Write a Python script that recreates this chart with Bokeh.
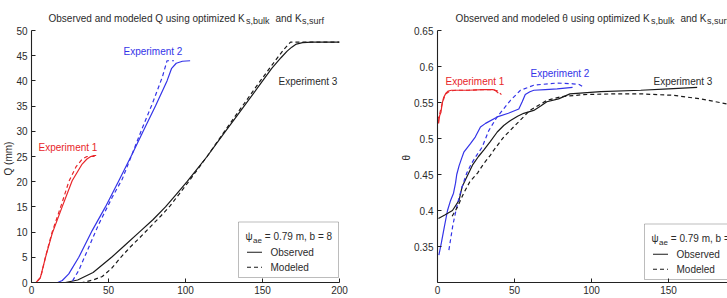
from bokeh.plotting import figure
from bokeh.models import Range1d, FixedTicker, NumeralTickFormatter, Label, BoxAnnotation, Title
from bokeh.layouts import row
from bokeh.embed import file_html
from bokeh.resources import INLINE

# ---------------- Cumulative runoff Q (mm) ----------------
q1_obs_t = [0, 3, 5.8, 9.1, 13.4, 19.9, 26.4, 32.9, 36.0, 38.5, 40.5, 42]
q1_obs = [0, 0, 1, 5, 9.7, 15, 20.2, 23.5, 24.5, 25.0, 25.2, 25.2]
q1_mod_t = [0, 3, 6, 9, 13.4, 19.5, 24.2, 29, 33, 36, 41]
q1_mod = [0, 0, 1, 5, 10, 15.5, 20, 23, 24.5, 25, 25]

q2_obs_t = [0, 17, 20, 24.2, 30.7, 39.4, 48, 56.7, 65.4, 72.5, 80.5, 88, 91, 94, 98, 103]
q2_obs = [0, 0, 0.4, 1.7, 5, 10.3, 15, 20.2, 25.5, 30, 35, 40, 42.5, 43.5, 43.9, 44]
q2_mod_t = [0, 26, 30.7, 37.2, 43.7, 52.4, 58.9, 65, 71.5, 78.5, 85, 88, 92.5]
q2_mod = [0, 0, 2.4, 7, 11.6, 16.9, 20.5, 25.2, 30.3, 35.5, 40.8, 44, 44]

q3_obs_t = [0, 22, 30, 40, 52, 61, 70, 79, 87, 94, 101, 107.5, 114, 124, 134,
            146.5, 156, 162, 166, 169, 172, 176, 182, 200]
q3_obs = [0, 0, 0.5, 2, 5, 7.5, 10, 12.5, 15, 17.5, 20, 22.5, 25, 29.2, 33.3,
          38.5, 42.5, 44.6, 45.9, 46.7, 47.3, 47.6, 47.7, 47.7]
q3_mod_t = [0, 33, 40, 46, 52, 58, 64, 70, 77, 84, 90, 96, 102, 108, 114, 126,
            136, 146, 156, 164, 168.2, 200]
q3_mod = [0, 0, 0.5, 1.2, 2.8, 5, 7, 8.8, 11, 13.2, 15.2, 17.6, 20, 22.5, 25, 30.3,
          34.6, 38.9, 43.1, 46.3, 47.7, 47.7]

# ---------------- Water content theta ----------------
th1_obs_t = [0, 0.7, 1.4, 2.2, 3, 4, 5.5, 7, 9, 12, 20, 30, 36, 38, 39.5]
th1_obs = [0.528, 0.521, 0.532, 0.536, 0.548, 0.557, 0.563, 0.566, 0.567, 0.567,
           0.567, 0.568, 0.568, 0.566, 0.563]
th1_mod_t = [0, 1.5, 3, 4.5, 6, 8, 12, 20, 30, 36, 39, 41.5]
th1_mod = [0.525, 0.535, 0.548, 0.558, 0.563, 0.566, 0.567, 0.567, 0.568, 0.568,
           0.566, 0.561]

th2_obs_t = [0.9, 2.5, 4.5, 6.5, 8.5, 10.4, 11.7, 12.5, 14, 15.6, 17.1, 21.4, 24.5,
             27.9, 31.2, 38.8, 46, 52.8, 55, 57, 60, 62.6, 70, 77.7, 87.7]
th2_obs = [0.338, 0.355, 0.378, 0.400, 0.414, 0.424, 0.438, 0.450, 0.462, 0.472,
           0.481, 0.493, 0.502, 0.516, 0.521, 0.530, 0.535, 0.541, 0.551, 0.561,
           0.565, 0.567, 0.568, 0.569, 0.571]
th2_mod_t = [7.4, 10, 13, 16, 19, 22, 25.5, 29, 33.3, 38.7, 47.4, 53.9, 62.5, 67,
             77.7, 88, 92, 95]
th2_mod = [0.345, 0.380, 0.410, 0.433, 0.452, 0.465, 0.477, 0.488, 0.511, 0.530,
           0.553, 0.567, 0.574, 0.575, 0.577, 0.576, 0.575, 0.571]

th3_obs_t = [0.6, 5, 9.7, 14, 16, 18, 22.7, 26.6, 30, 34, 38.8, 43, 47.4, 52, 56,
             62.5, 67, 71, 78.6, 86, 106, 132, 150, 168.6]
th3_obs = [0.389, 0.394, 0.400, 0.414, 0.433, 0.442, 0.463, 0.475, 0.484, 0.495,
           0.509, 0.518, 0.525, 0.531, 0.535, 0.539, 0.545, 0.551, 0.555, 0.562,
           0.565, 0.567, 0.569, 0.571]
th3_mod_t = [9.5, 13, 17, 21, 26, 30, 34.4, 36.6, 43, 51.7, 60, 71, 80, 95, 115,
             132, 153, 171, 188, 200]
th3_mod = [0.392, 0.405, 0.424, 0.440, 0.452, 0.465, 0.477, 0.484, 0.502, 0.521,
           0.539, 0.553, 0.558, 0.561, 0.562, 0.562, 0.560, 0.555, 0.548, 0.541]

q_xticks = [0, 50, 100, 150, 200]
q_yticks = [0, 5, 10, 15, 20, 25, 30, 35, 40, 45, 50]
th_xticks = [0, 50, 100, 150, 200]
th_yticks = [0.35, 0.4, 0.45, 0.5, 0.55, 0.6, 0.65]

RED = "#e8262a"
BLUE = "#3434e8"
BLACK = "#1a1a1a"
TEXT = "#2b2b2b"
FONT = "Liberation Sans"
DASH = "4 3"
LW = 1.2

# frame spans from the top of the canvas (py=0) to the x axis (py=282);
# the y axes themselves are bounded to their data extent
FRAME_TOP_FRAC = 282 / 252


def style_axes(p):
    p.title.visible = False
    p.outline_line_color = None
    p.xgrid.visible = False
    p.ygrid.visible = False
    p.background_fill_color = "white"
    p.border_fill_color = "white"
    for ax in (p.xaxis[0], p.yaxis[0]):
        ax.axis_line_color = "#222222"
        ax.axis_line_width = 1.1
        ax.major_tick_line_color = "#222222"
        ax.major_tick_in = 4
        ax.major_tick_out = 0
        ax.minor_tick_line_color = None
        ax.major_label_text_font = FONT
        ax.major_label_text_font_size = "10px"
        ax.major_label_text_color = TEXT
    p.xaxis[0].major_label_standoff = 3
    p.yaxis[0].major_label_standoff = 4


def side_label(p, text, offset):
    """Vertical axis label placed beside the y axis, starting `offset` px above the x axis."""
    p.add_layout(Title(text=text, align="left", offset=offset, standoff=0,
                       text_font=FONT, text_font_size="10px", text_font_style="normal",
                       text_color=TEXT), "left")


def pixel_mapper(x0, x1, px0, px1, y0, y1, py0, py1):
    """Map window pixel positions onto a panel's data space (for text placement)."""
    def f(px, py):
        return (x0 + (px - px0) * (x1 - x0) / (px1 - px0),
                y0 + (py - py0) * (y1 - y0) / (py1 - py0))
    return f


def put(p, m, px, py, text, size="10px", color=TEXT, align="left",
        baseline="alphabetic", angle=0.0):
    x, y = m(px, py)
    p.add_layout(Label(x=x, y=y, text=text, text_font=FONT, text_font_size=size,
                       text_color=color, text_align=align, text_baseline=baseline,
                       angle=angle))


def title_with_subscripts(p, m, px0, symbol):
    put(p, m, px0, 17.5, "Observed and modeled %s using optimized K" % symbol)
    shift = px0 - 48
    if symbol == "\u03b8":
        shift -= 2.2
    put(p, m, 245.5 + shift, 20.5, "s,bulk", size="9px")
    put(p, m, 275 + shift, 17.5, "and K")
    put(p, m, 301.5 + shift, 20.5, "s,surf", size="9px")


def legend_block(p, m, dx, dy):
    x0, y0 = m(238 + dx, 277 + dy)
    x1, y1 = m(338 + dx, 221.5 + dy)
    p.add_layout(BoxAnnotation(left=x0, right=x1, bottom=y0, top=y1,
                               fill_color="white", fill_alpha=1.0,
                               line_color="#222222", line_width=1.0, level="underlay"))
    put(p, m, 245 + dx, 235.5 + dy, "\u03c8")
    put(p, m, 252.5 + dx, 240 + dy, "ae", size="8px")
    put(p, m, 264.3 + dx, 235.5 + dy, "= 0.79 m, b = 8")
    for py, dash, name in ((251.7, "solid", "Observed"), (266.7, DASH, "Modeled")):
        xa, ya = m(246.5 + dx, py + dy)
        xb, _ = m(261.5 + dx, py + dy)
        p.segment(x0=[xa], y0=[ya], x1=[xb], y1=[ya], line_color=BLACK,
                  line_width=1.1, line_dash=dash)
        put(p, m, 270 + dx, py + dy, name, baseline="middle")


# ---------------- Left panel: Q ----------------
p1 = figure(width=397, height=298, output_backend="svg", toolbar_location=None,
            x_range=Range1d(0, 200), y_range=Range1d(0, 50 * FRAME_TOP_FRAC),
            min_border_left=31, min_border_right=58, min_border_top=0,
            min_border_bottom=16)
style_axes(p1)
p1.xaxis[0].ticker = FixedTicker(ticks=q_xticks)
p1.yaxis[0].ticker = FixedTicker(ticks=q_yticks)
p1.yaxis[0].bounds = (0, 50)
side_label(p1, "Q (mm)", 107)

for t, v, c in ((q1_obs_t, q1_obs, RED), (q2_obs_t, q2_obs, BLUE), (q3_obs_t, q3_obs, BLACK)):
    p1.line(t, v, line_color=c, line_width=LW)
for t, v, c in ((q1_mod_t, q1_mod, RED), (q2_mod_t, q2_mod, BLUE), (q3_mod_t, q3_mod, BLACK)):
    p1.line(t, v, line_color=c, line_width=LW, line_dash=DASH)

m1 = pixel_mapper(0, 200, 31, 339, 0, 50, 282, 30)
title_with_subscripts(p1, m1, 48, "Q")
put(p1, m1, 38, 147, "Experiment 1", color=RED, baseline="middle")
put(p1, m1, 123, 51, "Experiment 2", color=BLUE, baseline="middle")
put(p1, m1, 278, 81, "Experiment 3", color=TEXT, baseline="middle")
legend_block(p1, m1, 0, 0)

# ---------------- Right panel: theta ----------------
x_end = 200 * 290 / 308
p2 = figure(width=330, height=298, output_backend="svg", toolbar_location=None,
            x_range=Range1d(0, x_end), y_range=Range1d(0.3, 0.3 + 0.35 * FRAME_TOP_FRAC),
            min_border_left=40, min_border_right=0, min_border_top=0,
            min_border_bottom=16)
style_axes(p2)
p2.xaxis[0].ticker = FixedTicker(ticks=th_xticks)
p2.yaxis[0].ticker = FixedTicker(ticks=th_yticks)
p2.yaxis[0].formatter = NumeralTickFormatter(format="0.0[0]")
p2.yaxis[0].bounds = (0.3, 0.65)
side_label(p2, "\u03b8", 122)

for t, v, c in ((th1_obs_t, th1_obs, RED), (th2_obs_t, th2_obs, BLUE), (th3_obs_t, th3_obs, BLACK)):
    p2.line(t, v, line_color=c, line_width=LW)
for t, v, c in ((th1_mod_t, th1_mod, RED), (th2_mod_t, th2_mod, BLUE), (th3_mod_t, th3_mod, BLACK)):
    p2.line(t, v, line_color=c, line_width=LW, line_dash=DASH)

m2 = pixel_mapper(0, 200, 437, 745, 0.3, 0.65, 282, 30)
title_with_subscripts(p2, m2, 455.1, "\u03b8")
put(p2, m2, 445, 81, "Experiment 1", color=RED, baseline="middle")
put(p2, m2, 530, 73, "Experiment 2", color=BLUE, baseline="middle")
put(p2, m2, 653, 81, "Experiment 3", color=TEXT, baseline="middle")
legend_block(p2, m2, 406, 2)

layout = row(p1, p2)
open("out.html", "w").write(file_html(layout, INLINE))
